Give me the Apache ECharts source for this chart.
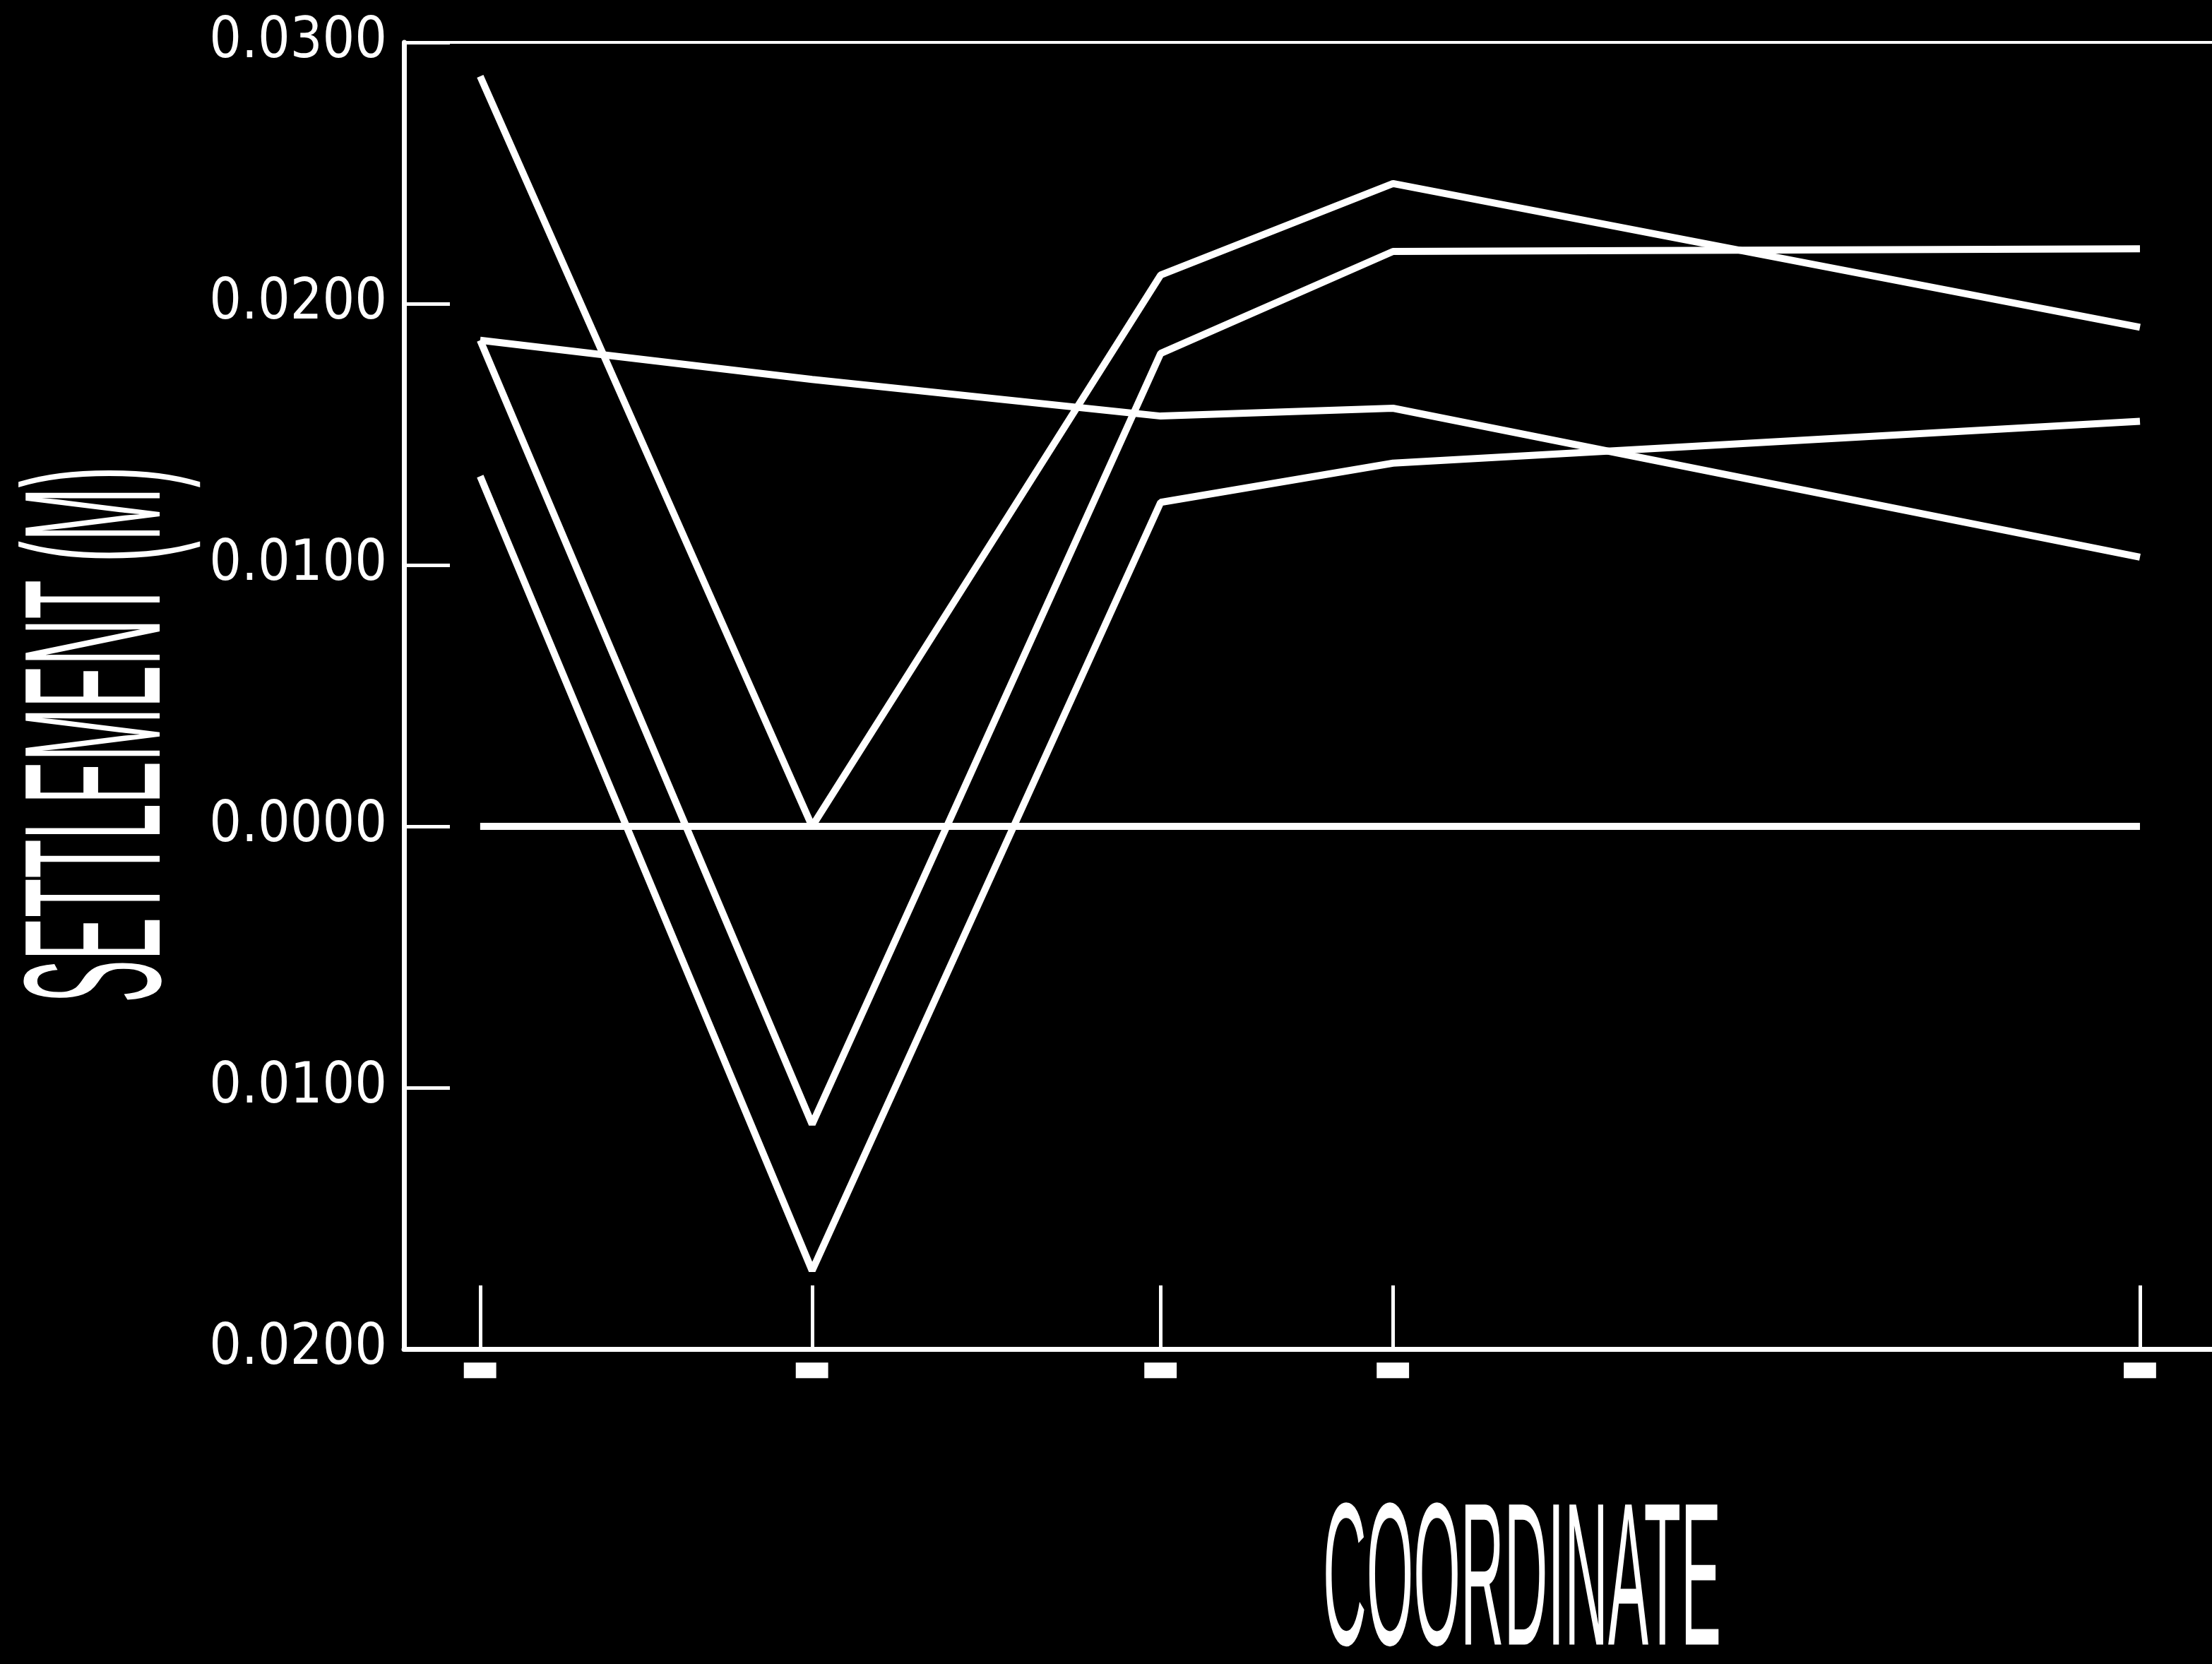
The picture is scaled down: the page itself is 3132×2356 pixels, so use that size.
<!DOCTYPE html>
<html>
<head>
<meta charset="utf-8">
<script src="https://cdn.jsdelivr.net/npm/echarts@6/dist/echarts.min.js"></script>
<style>
html,body{margin:0;padding:0;background:#000;}
#chart{width:3132px;height:2356px;}
</style>
</head>
<body>
<div id="chart"></div>
<script>
const xCoords = [0, 20, 41, 55, 100];
// settlement values (m) per curve
const curveA = [0.0287, 0.0000, 0.0211, 0.0246, 0.0191];
const curveB = [0.0186, -0.0114, 0.0181, 0.0220, 0.0221];
const curveC = [0.0134, -0.0170, 0.0124, 0.0139, 0.0155];
const curveD = [0.0186, 0.0171, 0.0157, 0.0160, 0.0103];
const curveE = [0.0000, 0.0000, 0.0000, 0.0000, 0.0000];
const xTickLabel = '▬';
const yTitle = 'SETTLEMENT (M)';
const xTitle = 'COORDINATE';

const curves = [curveA, curveB, curveC, curveD, curveE];
const chart = echarts.init(document.getElementById('chart'), null, {renderer: 'canvas'});

const series = curves.map((c, i) => ({
  type: 'line',
  name: 'curve' + (i + 1),
  data: xCoords.map((x, j) => [x, c[j]]),
  symbol: 'none',
  lineStyle: {color: '#fff', width: 10},
  animation: false,
  z: 3
}));

chart.setOption({
  backgroundColor: '#000',
  animation: false,
  grid: {left: 572, right: 0, top: 60, bottom: 446},
  xAxis: [{
    type: 'value',
    min: -4.59,
    max: 104.34,
    position: 'bottom',
    axisLine: {show: true, onZero: false, lineStyle: {color: '#fff', width: 7}},
    axisTick: {show: true, inside: true, length: 90, customValues: xCoords, lineStyle: {color: '#fff', width: 5}},
    axisLabel: {show: true, customValues: xCoords, formatter: () => xTickLabel, color: '#fff', fontSize: 60, fontFamily: 'DejaVu Sans', margin: 0},
    splitLine: {show: false}
  }, {
    type: 'value',
    min: -4.59,
    max: 104.34,
    position: 'top',
    axisLine: {show: true, onZero: false, lineStyle: {color: '#fff', width: 4}},
    axisTick: {show: false},
    axisLabel: {show: false},
    splitLine: {show: false}
  }],
  yAxis: {
    type: 'value',
    min: -0.02,
    max: 0.03,
    interval: 0.01,
    axisLine: {show: true, onZero: false, lineStyle: {color: '#fff', width: 7}},
    axisTick: {show: true, inside: true, length: 65, lineStyle: {color: '#fff', width: 5}},
    axisLabel: {
      color: '#fff',
      fontSize: 80,
      fontFamily: "'Liberation Sans Narrow', 'DejaVu Sans Condensed', sans-serif",
      margin: 24,
      formatter: v => Math.abs(v).toFixed(4)
    },
    splitLine: {show: false}
  },
  graphic: [{
    type: 'text',
    x: 2155,
    y: 2249,
    scaleX: 0.297,
    style: {
      text: xTitle,
      fill: '#fff',
      font: "288px 'Liberation Sans', sans-serif",
      align: 'center',
      verticalAlign: 'middle'
    }
  }, {
    type: 'text',
    x: 150,
    y: 1040,
    rotation: Math.PI / 2,
    scaleX: 0.328,
    style: {
      text: yTitle,
      fill: '#fff',
      font: "276px 'Liberation Sans', sans-serif",
      align: 'center',
      verticalAlign: 'middle'
    }
  }],
  series: series
});
</script>
</body>
</html>
